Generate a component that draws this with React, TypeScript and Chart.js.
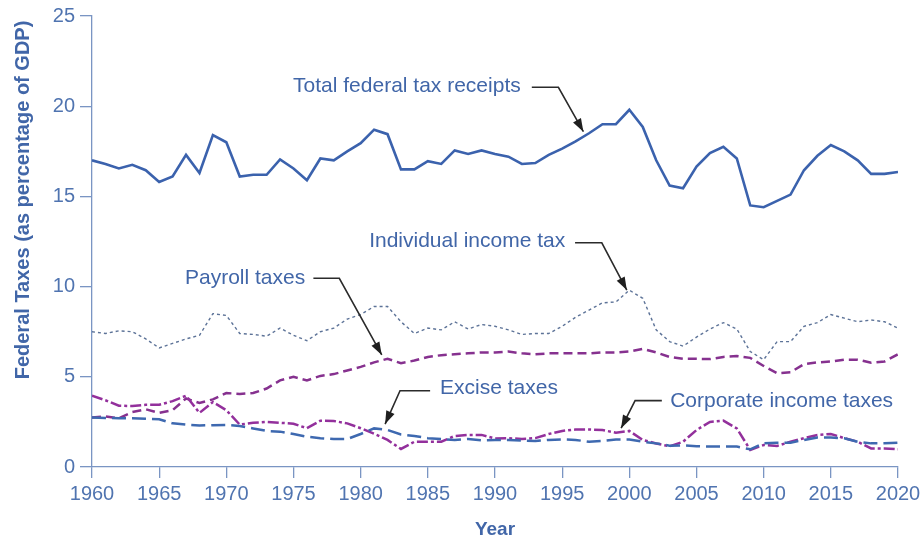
import React, { useEffect, useRef } from 'react';
import { Chart, registerables } from 'chart.js';

Chart.register(...registerables);

const FIRST_YEAR = 1960;

const totalReceipts = [
  17.0, 16.8, 16.55, 16.75, 16.45, 15.8, 16.1, 17.3, 16.3, 18.4,
  18.0, 16.1, 16.2, 16.2, 17.05, 16.55, 15.9, 17.1, 17.0, 17.5,
  17.95, 18.7, 18.45, 16.5, 16.5, 16.95, 16.8, 17.55, 17.35, 17.55,
  17.35, 17.2, 16.8, 16.85, 17.3, 17.65, 18.05, 18.5, 19.0, 19.0,
  19.8, 18.85, 17.0, 15.6, 15.45, 16.65, 17.4, 17.75, 17.1, 14.5,
  14.4, 14.75, 15.1, 16.45, 17.25, 17.85, 17.5, 17.0, 16.25, 16.25,
  16.35,
];

const individualIncome = [
  7.5, 7.4, 7.55, 7.5, 7.1, 6.6, 6.85, 7.1, 7.3, 8.5,
  8.4, 7.4, 7.35, 7.25, 7.7, 7.3, 7.0, 7.5, 7.7, 8.2,
  8.45, 8.9, 8.9, 8.05, 7.4, 7.7, 7.6, 8.05, 7.65, 7.9,
  7.8, 7.6, 7.35, 7.4, 7.4, 7.8, 8.3, 8.7, 9.1, 9.15,
  9.8, 9.35, 7.6, 6.95, 6.7, 7.2, 7.65, 8.0, 7.65, 6.4,
  5.95, 6.95, 6.95, 7.8, 8.0, 8.45, 8.25, 8.05, 8.15, 8.05,
  7.7,
];

const payroll = [
  2.75, 2.8, 2.7, 3.05, 3.2, 3.0, 3.15, 3.8, 3.55, 3.75,
  4.1, 4.05, 4.1, 4.35, 4.8, 5.0, 4.8, 5.05, 5.15, 5.35,
  5.55, 5.8, 6.0, 5.75, 5.9, 6.1, 6.2, 6.25, 6.3, 6.35,
  6.35, 6.4, 6.3, 6.25, 6.3, 6.3, 6.3, 6.3, 6.35, 6.35,
  6.4, 6.55, 6.35, 6.1, 6.0, 6.0, 5.98, 6.1, 6.15, 6.05,
  5.6, 5.2, 5.25, 5.7, 5.8, 5.85, 5.95, 5.95, 5.78, 5.85,
  6.25,
];

const excise = [
  2.75, 2.72, 2.7, 2.7, 2.68, 2.65, 2.42, 2.35, 2.3, 2.32,
  2.33, 2.27, 2.14, 2.0, 1.96, 1.83, 1.68, 1.6, 1.55, 1.55,
  1.83, 2.14, 2.05, 1.8, 1.72, 1.6, 1.55, 1.5, 1.55, 1.48,
  1.5, 1.5, 1.46, 1.44, 1.5, 1.53, 1.5, 1.4, 1.44, 1.53,
  1.53, 1.4, 1.31, 1.18, 1.2, 1.15, 1.13, 1.13, 1.13, 0.98,
  1.31, 1.35, 1.35, 1.5, 1.64, 1.64, 1.59, 1.4, 1.31, 1.31,
  1.35,
];

const corporate = [
  3.95, 3.7, 3.4, 3.38, 3.45, 3.45, 3.65, 3.95, 3.0, 3.6,
  3.15, 2.35, 2.45, 2.5, 2.45, 2.4, 2.15, 2.57, 2.55, 2.42,
  2.15, 1.85, 1.5, 1.0, 1.4, 1.4, 1.4, 1.72, 1.78, 1.78,
  1.58, 1.6, 1.55, 1.6, 1.83, 2.0, 2.08, 2.08, 2.05, 1.9,
  2.0, 1.5, 1.3, 1.15, 1.4, 2.05, 2.5, 2.57, 2.14, 0.95,
  1.22, 1.17, 1.4, 1.6, 1.77, 1.83, 1.6, 1.4, 1.03, 1.03,
  0.98,
];

const years = totalReceipts.map((_, i) => FIRST_YEAR + i);

const xTickValues = [1960, 1965, 1970, 1975, 1980, 1985, 1990, 1995, 2000, 2005, 2010, 2015, 2020];
const yTickValues = [0, 5, 10, 15, 20, 25];

const xAxisTitle = 'Year';
const yAxisTitle = 'Federal Taxes (as percentage of GDP)';

// Callout labels anchored in data units: text start [year, value], leader path [[year, value], ...] ending at arrow tip
const callouts = [
  { text: 'Total federal tax receipts', at: [1974.97, 21.12], path: [[1992.74, 21.05], [1994.72, 21.05], [1996.58, 18.59]] },
  { text: 'Individual income tax', at: [1980.63, 12.53], path: [[1995.96, 12.43], [1997.95, 12.43], [1999.81, 9.81]] },
  { text: 'Payroll taxes', at: [1966.92, 10.48], path: [[1976.48, 10.46], [1978.41, 10.46], [1981.57, 6.21]] },
  { text: 'Excise taxes', at: [1985.91, 4.38], path: [[1985.17, 4.23], [1982.93, 4.23], [1981.82, 2.38]] },
  { text: 'Corporate income taxes', at: [2003.04, 3.66], path: [[2002.42, 3.68], [2000.43, 3.68], [1999.39, 2.15]] },
];

const FONT = "'Liberation Sans', Arial, Helvetica, sans-serif";
const TEXT_BLUE = '#4166a8';
const TICK_BLUE = '#5074b0';
const AXIS_BLUE = '#7a95c3';

const calloutPlugin = {
  id: 'callouts',
  afterDraw(chart: any) {
    const { ctx, scales } = chart;
    const xs = scales.x;
    const ys = scales.y;
    ctx.save();

    // y-axis title
    ctx.save();
    ctx.translate(23, 200);
    ctx.rotate(-Math.PI / 2);
    ctx.font = `bold 20px ${FONT}`;
    ctx.fillStyle = TEXT_BLUE;
    ctx.textAlign = 'center';
    ctx.textBaseline = 'middle';
    ctx.fillText(yAxisTitle, 0, 0);
    ctx.restore();

    ctx.font = `21px ${FONT}`;
    ctx.textAlign = 'left';
    ctx.textBaseline = 'middle';
    for (const c of callouts) {
      ctx.fillStyle = TEXT_BLUE;
      ctx.fillText(c.text, xs.getPixelForValue(c.at[0]), ys.getPixelForValue(c.at[1]));
      const pts = c.path.map((p) => [xs.getPixelForValue(p[0]), ys.getPixelForValue(p[1])]);
      ctx.strokeStyle = '#2b2b2b';
      ctx.lineWidth = 1.6;
      ctx.beginPath();
      ctx.moveTo(pts[0][0], pts[0][1]);
      for (let i = 1; i < pts.length; i++) ctx.lineTo(pts[i][0], pts[i][1]);
      ctx.stroke();
      const n = pts.length;
      const [tx, ty] = pts[n - 1];
      const [px, py] = pts[n - 2];
      const ang = Math.atan2(ty - py, tx - px);
      const len = 13;
      const half = 4.5;
      const bx = tx - len * Math.cos(ang);
      const by = ty - len * Math.sin(ang);
      ctx.fillStyle = '#1f1f1f';
      ctx.beginPath();
      ctx.moveTo(tx, ty);
      ctx.lineTo(bx + half * Math.sin(ang), by - half * Math.cos(ang));
      ctx.lineTo(bx - half * Math.sin(ang), by + half * Math.cos(ang));
      ctx.closePath();
      ctx.fill();
    }
    ctx.restore();
  },
};

const toPoints = (vals: number[]) => vals.map((v, i) => ({ x: years[i], y: v }));

export default function App() {
  const ref = useRef<HTMLCanvasElement | null>(null);

  useEffect(() => {
    if (!ref.current) return;
    const chart = new Chart(ref.current, {
      type: 'line',
      data: {
        datasets: [
          {
            label: 'Individual income tax',
            data: toPoints(individualIncome),
            borderColor: '#5d7398',
            borderWidth: 1.4,
            borderDash: [3, 3],
            pointRadius: 0,
          },
          {
            label: 'Excise taxes',
            data: toPoints(excise),
            borderColor: '#3e69b0',
            borderWidth: 2.5,
            borderDash: [14, 6],
            pointRadius: 0,
          },
          {
            label: 'Corporate income taxes',
            data: toPoints(corporate),
            borderColor: '#93309c',
            borderWidth: 2.5,
            borderDash: [11, 3, 3, 3],
            pointRadius: 0,
          },
          {
            label: 'Payroll taxes',
            data: toPoints(payroll),
            borderColor: '#86318f',
            borderWidth: 2.5,
            borderDash: [9, 5],
            pointRadius: 0,
          },
          {
            label: 'Total federal tax receipts',
            data: toPoints(totalReceipts),
            borderColor: '#3b62ad',
            borderWidth: 2.6,
            pointRadius: 0,
          },
        ],
      },
      options: {
        responsive: false,
        animation: false,
        events: [],
        layout: { padding: { left: 0, right: 26, top: 16, bottom: 0 } },
        plugins: { legend: { display: false }, tooltip: { enabled: false } },
        scales: {
          x: {
            type: 'linear',
            min: 1960,
            max: 2020,
            afterBuildTicks: (s: any) => {
              s.ticks = xTickValues.map((v) => ({ value: v }));
            },
            afterFit: (s: any) => {
              s.height = 74;
              s.paddingLeft = 0;
              s.paddingRight = 0;
            },
            grid: { drawOnChartArea: false, drawTicks: true, tickLength: 11, color: AXIS_BLUE, lineWidth: 1.3 },
            border: { display: true, color: AXIS_BLUE, width: 1.3 },
            ticks: {
              font: { family: FONT, size: 20 },
              color: TICK_BLUE,
              padding: 4,
              maxRotation: 0,
              autoSkip: false,
              callback: (v: any) => String(v),
            },
            title: {
              display: true,
              text: xAxisTitle,
              font: { family: FONT, size: 19, weight: 'bold' },
              color: TEXT_BLUE,
              padding: { top: 0, bottom: 0 },
            },
          },
          y: {
            min: 0,
            max: 25,
            afterBuildTicks: (s: any) => {
              s.ticks = yTickValues.map((v) => ({ value: v }));
            },
            afterFit: (s: any) => {
              s.width = 92;
              s.paddingTop = 0;
              s.paddingBottom = 0;
            },
            grid: { drawOnChartArea: false, drawTicks: true, tickLength: 12, color: AXIS_BLUE, lineWidth: 1.3 },
            border: { display: true, color: AXIS_BLUE, width: 1.3 },
            ticks: {
              font: { family: FONT, size: 20 },
              color: TICK_BLUE,
              padding: 5,
            },
          },
        },
      },
      plugins: [calloutPlugin],
    } as any);
    return () => chart.destroy();
  }, []);

  return (
    <div style={{ position: 'absolute', left: 0, top: 0, width: 924, height: 541, background: '#ffffff' }}>
      <canvas ref={ref} width={924} height={541} />
    </div>
  );
}
